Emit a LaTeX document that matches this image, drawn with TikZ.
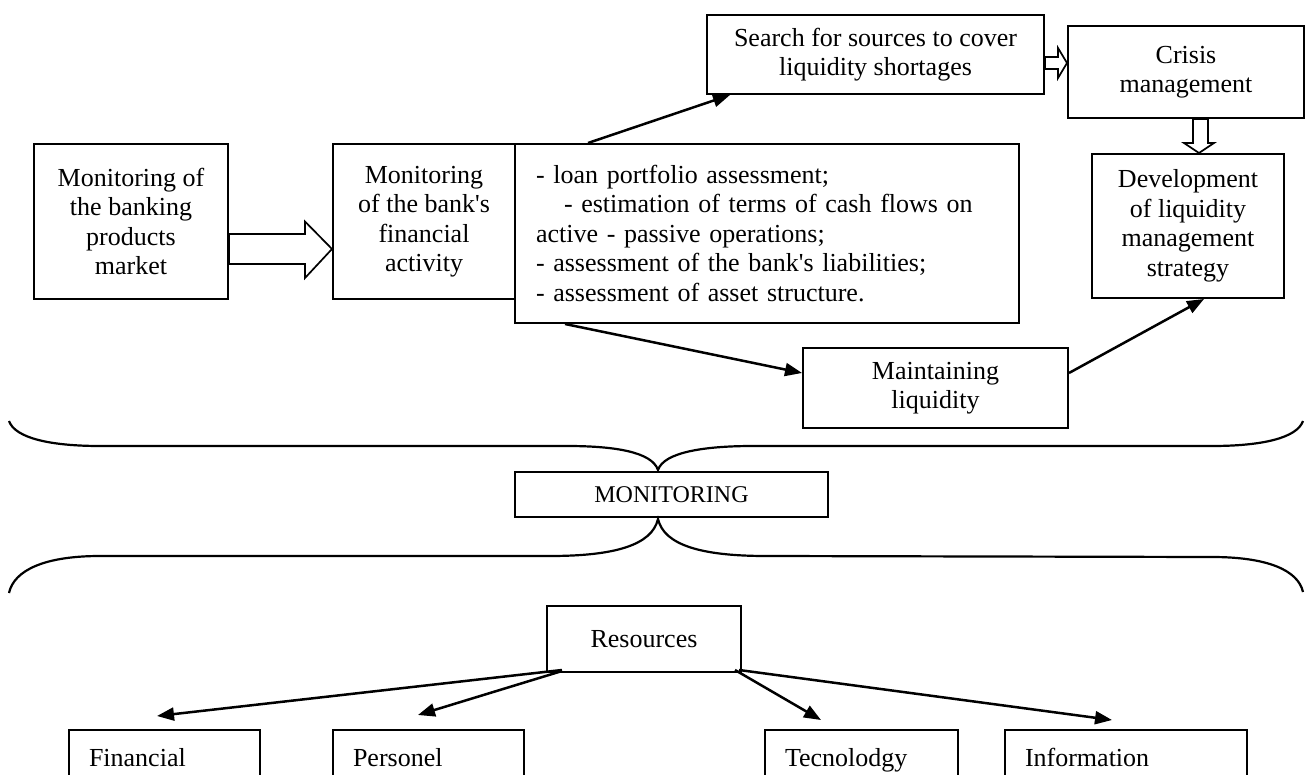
\documentclass[tikz,border=0pt]{standalone}
\usepackage{fontspec}
\setmainfont{Liberation Serif}[Ligatures=TeXOff]
\usetikzlibrary{arrows.meta,calc}
\begin{document}
\begin{tikzpicture}[x=1pt,y=-1pt,
  txt/.style={font=\fontsize{26}{29.5}\selectfont},
  box/.style={txt,draw,line width=2pt,inner sep=0pt,anchor=north west,align=center},
  listbox/.style={txt,draw,line width=2pt,anchor=north west,inner xsep=21pt,inner ysep=0pt,
    text width=462pt,align=left},
  resbox/.style={txt,draw,line width=2pt,anchor=north west,inner xsep=20pt,inner ysep=18pt,
    text height=18pt,text depth=40pt,align=left},
  flow/.style={line width=2.5pt,-{Triangle[length=17pt,width=13pt]}},
  hollow/.style={draw,fill=white,line width=1.7pt},
  brace/.style={line width=2.2pt}
]
\useasboundingbox (0,0) rectangle (1306,775);
\fill[white] (0,0) rectangle (1306,775);
\clip (0,0) rectangle (1306,775);

% upper level: monitoring chain
\node[box,minimum width=194pt,minimum height=155pt] (mkt) at (33,143)
  {Monitoring of\\the banking\\products\\market};
\node[box,minimum width=182pt,minimum height=155pt] (act) at (332,143)
  {Monitoring\\of the bank's\\financial\\activity};
\node[listbox,minimum height=179pt] (lst) at (514,143)
  {- loan portfolio assessment;\\
   \hspace*{28pt}- estimation of terms of cash flows on\\
   active - passive operations;\\
   - assessment of the bank's liabilities;\\
   - assessment of asset structure.};
\node[box,minimum width=337pt,minimum height=79pt] (src) at (706,14)
  {Search for sources to cover\\liquidity shortages};
\node[box,minimum width=236pt,minimum height=92pt] (crs) at (1067,25)
  {Crisis\\management};
\node[box,minimum width=192pt,minimum height=144pt] (dev) at (1091,153)
  {Development\\of liquidity\\management\\strategy};
\node[box,minimum width=265pt,minimum height=80pt] (mnt) at (802,347)
  {Maintaining\\liquidity};

% block arrows
\draw[hollow] ($(mkt.east)+(0,12.5)$) -- ($(act.west)+(-27,12.5)$) -- ($(act.west)+(-27,0)$)
  -- ($(act.west)+(0,27.5)$) -- ($(act.west)+(-27,56.5)$) -- ($(act.west)+(-27,42.5)$)
  -- ($(mkt.east)+(0,42.5)$) -- cycle;
\draw[hollow] ($(src.east)+(0,2.5)$) -- ($(crs.west)+(-9,-15)$) -- ($(crs.west)+(-9,-24)$)
  -- ($(crs.west)+(0,-9)$) -- ($(crs.west)+(-9,6)$) -- ($(crs.west)+(-9,-3)$)
  -- ($(src.east)+(0,14.5)$) -- cycle;
\draw[hollow] ($(crs.south)+(7,0)$) -- ($(dev.north)+(5,-10)$) -- ($(dev.north)+(-4,-10)$)
  -- ($(dev.north)+(11,0)$) -- ($(dev.north)+(26,-10)$) -- ($(dev.north)+(20,-10)$)
  -- ($(crs.south)+(22,0)$) -- cycle;

% plain arrows
\draw[flow] ($(lst.north west)+(74,0)$) -- ($(src.south west)+(24,0)$);
\draw[flow] ($(lst.south west)+(51,0)$) -- ($(mnt.west)+(0,-15)$);
\draw[flow] ($(mnt.east)+(0,-15)$) -- ($(dev.south)+(16,0)$);

% braces around the monitoring block
\draw[brace] (9,421) .. controls (15,438) and (50,446) .. (100,446) -- (567,446)
  .. controls (615,446) and (652,452) .. (658,470)
  .. controls (664,452) and (705,446) .. (753,446) -- (1212,446)
  .. controls (1262,446) and (1297,438) .. (1303,421);
\node[box,font=\fontsize{24}{28}\selectfont,minimum width=313pt,minimum height=45pt] (mon) at (514,471)
  {MONITORING};
\draw[brace] (9,593) .. controls (14,570) and (45,556) .. (100,556) -- (550,556)
  .. controls (615,556) and (652,545) .. (658,519)
  .. controls (664,545) and (701,556) .. (766,556) -- (1212,557)
  .. controls (1267,557) and (1298,570) .. (1303,592);

% resources
\node[box,minimum width=194pt,minimum height=66pt] (res) at (546,605) {Resources};
\node[resbox,text width=151pt] (fin) at (68,729) {Financial};
\node[resbox,text width=151pt] (per) at (332,729) {Personel};
\node[resbox,text width=153pt] (tec) at (764,729) {Tecnolodgy};
\node[resbox,text width=202pt] (inf) at (1004,729) {Information};

\draw[flow] ($(res.south west)+(16,-3)$) -- ($(fin.north west)+(89,-13)$);
\draw[flow] ($(res.south west)+(16,-2)$) -- ($(per.north west)+(86,-14)$);
\draw[flow] ($(res.south east)+(-7,-3)$) -- ($(tec.north west)+(57,-9)$);
\draw[flow] ($(res.south east)+(-3,-3)$) -- ($(inf.north west)+(108,-9)$);
\end{tikzpicture}
\end{document}
